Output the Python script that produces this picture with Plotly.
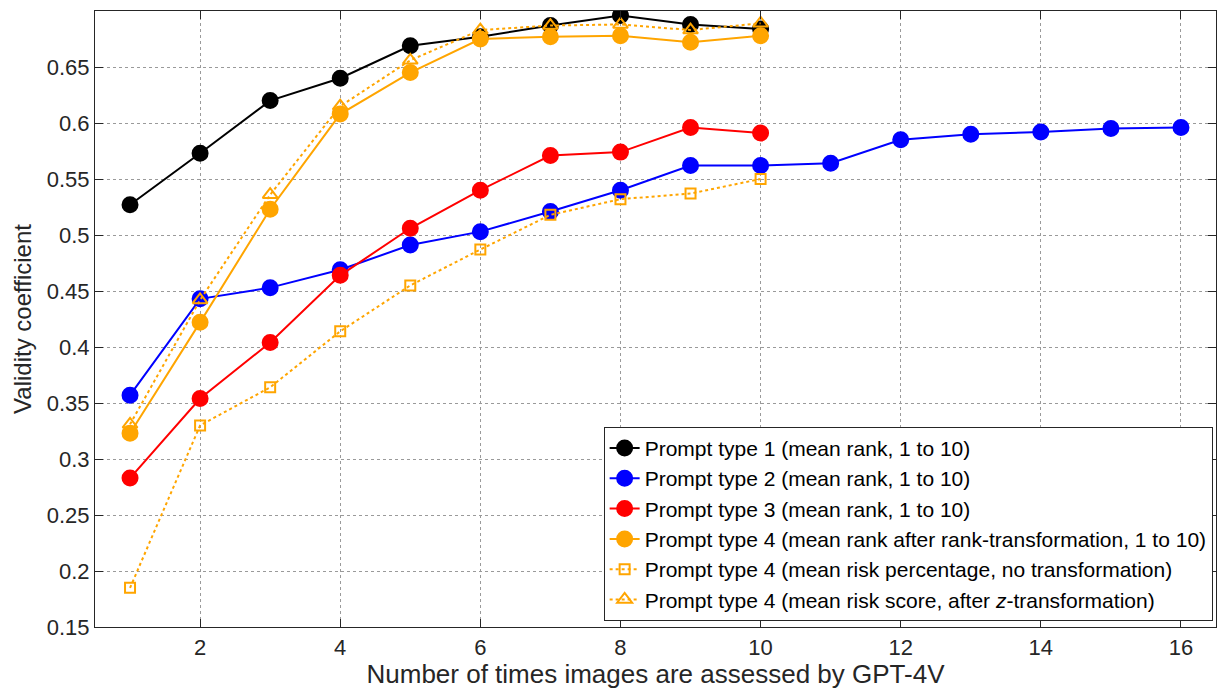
import plotly.graph_objects as go

x10 = list(range(1, 11))
x16 = list(range(1, 17))

p1 = [0.527, 0.573, 0.620, 0.640, 0.669, 0.677, 0.687, 0.696, 0.688, 0.684]
p2 = [0.357, 0.443, 0.453, 0.469, 0.491, 0.503, 0.521, 0.540, 0.562, 0.562,
      0.564, 0.585, 0.590, 0.592, 0.595, 0.596]
p3 = [0.283, 0.354, 0.404, 0.464, 0.506, 0.540, 0.571, 0.574, 0.596, 0.591]
p4_rank = [0.323, 0.422, 0.523, 0.608, 0.645, 0.675, 0.677, 0.678, 0.672, 0.678]
p4_pct = [0.185, 0.330, 0.364, 0.414, 0.455, 0.487, 0.518, 0.532, 0.537, 0.550]
p4_z = [0.331, 0.442, 0.536, 0.615, 0.656, 0.683, 0.687, 0.688, 0.683, 0.689]

names = [
    "Prompt type 1 (mean rank, 1 to 10)",
    "Prompt type 2 (mean rank, 1 to 10)",
    "Prompt type 3 (mean rank, 1 to 10)",
    "Prompt type 4 (mean rank after rank-transformation, 1 to 10)",
    "Prompt type 4 (mean risk percentage, no transformation)",
    "Prompt type 4 (mean risk score, after <i>z</i>-transformation)",
]

ORANGE = "#FFA500"
FONT = "Liberation Sans, Arial, sans-serif"
fig = go.Figure()

def add(x, y, name, color, symbol, dash, size):
    fig.add_trace(go.Scatter(
        x=x, y=y, name=name, mode="lines+markers",
        line=dict(color=color, width=2, dash=dash),
        marker=dict(symbol=symbol, size=size, color=color,
                    line=dict(color=color, width=2)),
    ))

add(x10, p1, names[0], "black", "circle", "solid", 15)
add(x16, p2, names[1], "blue", "circle", "solid", 15)
add(x10, p3, names[2], "red", "circle", "solid", 15)
add(x10, p4_rank, names[3], ORANGE, "circle", "solid", 15)
add(x10, p4_pct, names[4], ORANGE, "square-open", "dot", 10)
add(x10, p4_z, names[5], ORANGE, "triangle-up-open", "dot", 13)

axis_common = dict(
    showline=True, linecolor="#262626", linewidth=1.2, mirror="ticks",
    ticks="inside", ticklen=8, tickcolor="#262626",
    showgrid=True, gridcolor="#9a9a9a", griddash="dot", gridwidth=1,
    zeroline=False, automargin=False,
    tickfont=dict(family=FONT, size=22, color="#262626"),
)

fig.update_xaxes(range=[0.5, 16.5], tickvals=list(range(2, 17, 2)),
                 title=dict(text="Number of times images are assessed by GPT-4V",
                            standoff=4,
                            font=dict(family=FONT, size=26, color="#262626")),
                 **axis_common)
fig.update_yaxes(range=[0.15, 0.70],
                 tickvals=[0.15, 0.2, 0.25, 0.3, 0.35, 0.4, 0.45, 0.5, 0.55, 0.6, 0.65],
                 ticktext=["0.15", "0.2", "0.25", "0.3", "0.35", "0.4", "0.45",
                           "0.5", "0.55", "0.6", "0.65"],
                 title=dict(text="Validity coefficient", standoff=8,
                            font=dict(family=FONT, size=24, color="#262626")),
                 **axis_common)

fig.update_layout(
    width=1218, height=693,
    margin=dict(l=95, r=2, t=11, b=66),
    plot_bgcolor="white", paper_bgcolor="white",
    font=dict(family=FONT, color="black"),
    legend=dict(
        x=0.997, y=0.01, xanchor="right", yanchor="bottom",
        bgcolor="white", bordercolor="#262626", borderwidth=1,
        font=dict(family=FONT, size=21, color="black"),
        tracegroupgap=0,
    ),
    showlegend=True,
)

fig.write_html(
    "out.html",
    config={"displayModeBar": False},
    post_script="document.body.style.margin='0';document.body.style.overflow='hidden';",
)
